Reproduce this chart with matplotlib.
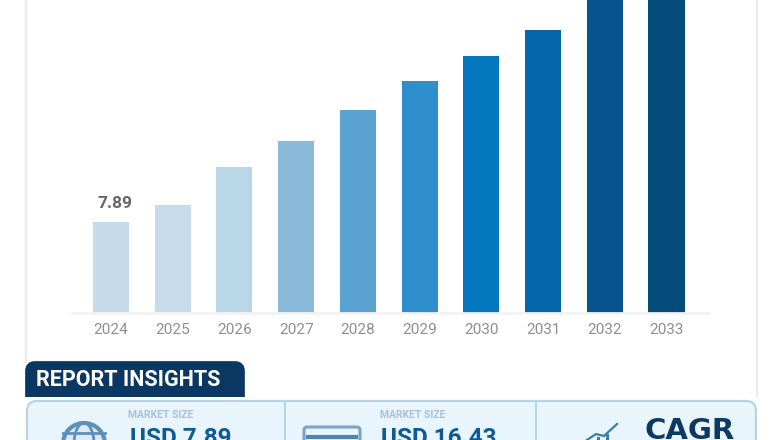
import matplotlib
matplotlib.use("Agg")
import matplotlib.pyplot as plt
from matplotlib.patches import Rectangle, FancyBboxPatch, Circle, Ellipse

years = ["2024","2025","2026","2027","2028","2029","2030","2031","2032","2033"]
values = [7.89, 9.37, 12.66, 14.9, 17.6, 20.1, 22.3, 24.5, 28.0, 30.0]
bar_colors = ["#c5dbea","#c6dcec","#bad7ea","#8bbbda","#5aa3d1","#2f8fcd","#0577be","#0567a9","#05538f","#034b78"]
first_label = "7.89"
tab_title = "REPORT INSIGHTS"
kpi_small = ["MARKET SIZE", "MARKET SIZE"]
kpi_big = ["USD 7.89", "USD 16.43"]
cagr_label = "CAGR"

W, H = 780, 440
fig = plt.figure(figsize=(W/100, H/100), dpi=100, facecolor="white")
plt.rcParams["font.family"] = ["Roboto", "DejaVu Sans"]

# pixel-coordinate overlay for the page furniture
bg = fig.add_axes([0, 0, 1, 1], zorder=0)
bg.set_xlim(0, W); bg.set_ylim(H, 0); bg.axis("off")
bg.plot([26, 26], [0, 362], color="#ececec", lw=1.6)
bg.plot([757, 757], [0, 400], color="#ececec", lw=1.6)

# chart
L, R, B = 72, 708, 313
ax = fig.add_axes([L/W, (H-B)/H, (R-L)/W, B/H], zorder=1)
ax.patch.set_alpha(0)
px_per_unit = 91 / values[0]
ax.set_ylim(0, B / px_per_unit)
x = list(range(len(years)))
ax.set_xlim(-0.632, 9.673)
ax.bar(x, values, width=0.585, color=bar_colors, edgecolor="none", zorder=2)
ax.set_xticks(x, years, fontsize=11, color="#8f8f8f")
ax.tick_params(axis="x", length=0, pad=7)
ax.set_yticks([])
for s in ["top", "left", "right"]:
    ax.spines[s].set_visible(False)
ax.spines["bottom"].set_color("#f3f3f3")
ax.spines["bottom"].set_linewidth(2)
ax.annotate(first_label, (0, values[0]), xytext=(3, 8), textcoords="offset points",
            ha="center", va="bottom", fontsize=12.5, fontweight="bold", color="#666666")

# report insights tab
top = fig.add_axes([0, 0, 1, 1], zorder=2)
top.set_xlim(0, W); top.set_ylim(H, 0); top.axis("off")
top.add_patch(FancyBboxPatch((30, 366), 210, 40, boxstyle="round,pad=0,rounding_size=5",
                             mutation_aspect=1, fc="#0b3763", ec="#0b3763", lw=7))
top.add_patch(Rectangle((0, 397), W, 43, fc="white", ec="none"))
top.text(36, 380, tab_title, color="white", fontsize=15.5, fontweight="bold", va="center", ha="left")

# KPI panel
top.add_patch(FancyBboxPatch((27, 401), 729, 60, boxstyle="round,pad=0,rounding_size=10",
                             fc="#e8f5fd", ec="#b9d3e4", lw=1.6))
for dx in (285, 536):
    top.plot([dx, dx], [401, 440], color="#b9d3e4", lw=1.4)
for xp, s in zip((128, 380), kpi_small):
    top.text(xp, 415, s, fontsize=7.5, color="#a9c0d6", fontweight="bold", va="center", ha="left")
for xp, s in zip((130, 381), kpi_big):
    top.text(xp, 445, s, fontsize=17.5, color="#0d5a94", fontweight="bold", va="baseline", ha="left")
top.text(645, 439, cagr_label, fontsize=21, color="#0c3a63", fontweight="bold", va="baseline",
         ha="left", family="DejaVu Sans")

# icons
top.add_patch(Circle((84, 444), 21, fc="#dbeaf5", ec="#5f8fb8", lw=3))
top.add_patch(Ellipse((84, 444), 20, 42, fc="none", ec="#5f8fb8", lw=2))
top.plot([63, 105], [433, 433], color="#5f8fb8", lw=2)
top.add_patch(FancyBboxPatch((304, 427), 56, 30, boxstyle="round,pad=0,rounding_size=3",
                             fc="#e8f5fd", ec="#7ba3c4", lw=2.2))
top.plot([308, 356], [437, 437], color="#4a86b5", lw=3)
top.plot([587, 596, 604, 617], [440, 434, 436, 424], color="#3b7cae", lw=1.6)
for bx, bh in zip((597, 606), (3, 6)):
    top.add_patch(Rectangle((bx, 440-bh), 3, bh, fc="#3b7cae", ec="none"))

fig.savefig("out.png", dpi=100)
